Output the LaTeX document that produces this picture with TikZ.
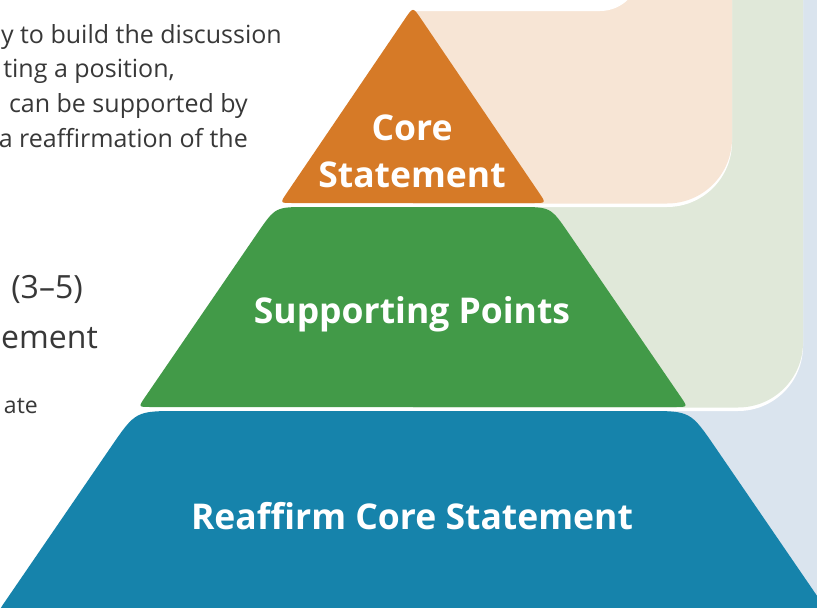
\documentclass[tikz,border=0pt]{standalone}
\usepackage{fontspec}
\setmainfont{Open Sans}
\usetikzlibrary{calc}

\definecolor{tierorange}{HTML}{D67A27}
\definecolor{tiergreen}{HTML}{429A48}
\definecolor{tierblue}{HTML}{1683AB}
\definecolor{panelpeach}{HTML}{F7E5D5}
\definecolor{panelgreen}{HTML}{E0E8D9}
\definecolor{panelblue}{HTML}{DAE4EE}
\definecolor{bodygray}{HTML}{383838}

\begin{document}
\begin{tikzpicture}[x=1pt,y=-1pt,
  bodytext/.style={inner sep=0pt, text=bodygray, anchor=base east, font=\fontsize{25}{30}\selectfont},
  bigtext/.style={inner sep=0pt, text=bodygray, anchor=base east, font=\fontsize{32}{38}\selectfont},
  tierlabel/.style={inner sep=0pt, text=white, anchor=base, font=\bfseries\fontsize{35.5}{40}\selectfont},
  panelshadow/.style={fill=white, yshift=-3.5pt}]

\useasboundingbox (0,0) rectangle (817,608);
\clip (0,0) rectangle (817,608);
\fill[white] (0,0) rectangle (817,608);

% stacked background panels behind the pyramid, each with a white lip below
\fill[panelblue] (413,-20) rectangle (840,640);
\fill[panelshadow] (413,-40) -- (803,-40) -- (803,342.5)
  arc[start angle=0, end angle=90, radius=65] -- (413,407.5) -- cycle;
\fill[panelgreen] (413,-40) -- (803,-40) -- (803,342.5)
  arc[start angle=0, end angle=90, radius=65] -- (413,407.5) -- cycle;
\fill[panelshadow] (413,-40) -- (732,-40) -- (732,138.5)
  arc[start angle=0, end angle=90, radius=65] -- (413,203.5) -- cycle;
\fill[panelpeach] (413,-40) -- (732,-40) -- (732,138.5)
  arc[start angle=0, end angle=90, radius=65] -- (413,203.5) -- cycle;
\fill[white] (-10,-40) -- (640,-40) -- (640,-29)
  arc[start angle=0, end angle=90, radius=40] -- (-10,11) -- cycle;

% pyramid corner points (sides follow one line through the apex)
\coordinate (oA) at (413,7);
\coordinate (oR) at (546.0,203);
\coordinate (oL) at (280.0,203);
\coordinate (gTL) at (275.3,207);
\coordinate (gTR) at (550.7,207);
\coordinate (gBR) at (687.7,407);
\coordinate (gBL) at (138.3,407);
\coordinate (bTL) at (135.6,411);
\coordinate (bTR) at (690.4,411);
\coordinate (bBR) at (828.1,612);
\coordinate (bBL) at (-2.1,612);

% top tier
\fill[tierorange]
  ($(oA)!14pt!(oL)$) .. controls (oA) .. ($(oA)!14pt!(oR)$)
  -- ($(oR)!12pt!(oA)$) .. controls (oR) .. ($(oR)!12pt!(oL)$)
  -- ($(oL)!12pt!(oR)$) .. controls (oL) .. ($(oL)!12pt!(oA)$) -- cycle;

% middle tier
\fill[tiergreen]
  ($(gTL)!32pt!(gBL)$) .. controls (gTL) .. ($(gTL)!32pt!(gTR)$)
  -- ($(gTR)!32pt!(gTL)$) .. controls (gTR) .. ($(gTR)!32pt!(gBR)$)
  -- ($(gBR)!12pt!(gTR)$) .. controls (gBR) .. ($(gBR)!12pt!(gBL)$)
  -- ($(gBL)!12pt!(gBR)$) .. controls (gBL) .. ($(gBL)!12pt!(gTL)$) -- cycle;

% bottom tier
\fill[tierblue]
  ($(bTL)!44pt!(bBL)$) .. controls (bTL) .. ($(bTL)!44pt!(bTR)$)
  -- ($(bTR)!44pt!(bTL)$) .. controls (bTR) .. ($(bTR)!44pt!(bBR)$)
  -- ($(bBR)!12pt!(bTR)$) .. controls (bBR) .. ($(bBR)!12pt!(bBL)$)
  -- ($(bBL)!12pt!(bBR)$) .. controls (bBL) .. ($(bBL)!12pt!(bTL)$) -- cycle;

% tier labels
\node[tierlabel] (core1) at (412,140) {Core};
\node[tierlabel] (core2) at (412,187) {Statement};
\node[tierlabel] (support) at (412,323) {Supporting Points};
\node[tierlabel] (reaffirm) at (412,529) {Reaffirm Core Statement};

% description text on the left
\node[bodytext] (d1) at (282,43) {y to build the discussion};
\node[bodytext] (d2) at (175,77) {ting a position,};
\node[bodytext] (d3) at (248,112) {can be supported by};
\node[bodytext] (d4) at (248,147) {a reaffirmation of the};
\node[bigtext] (n1) at (83,298) {(3–5)};
\node[bigtext] (n2) at (98,348) {ement};
\node[bodytext, font=\fontsize{23}{28}\selectfont] (n3) at (38,413) {ate};

\end{tikzpicture}
\end{document}
